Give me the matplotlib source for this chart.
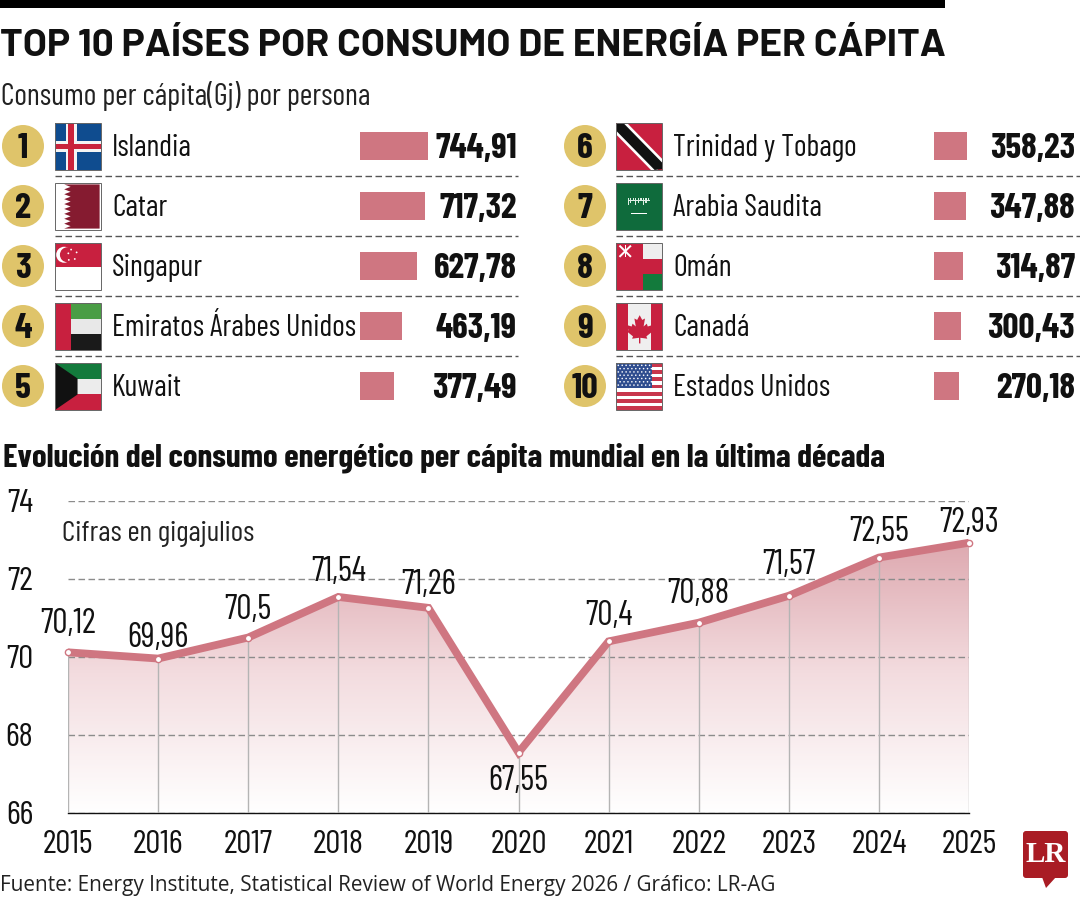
import numpy as np
import matplotlib
matplotlib.use("Agg")
import matplotlib.pyplot as plt
from matplotlib.colors import LinearSegmentedColormap
from matplotlib.patches import Circle, Polygon, Rectangle, FancyBboxPatch
import logging
logging.getLogger("matplotlib.font_manager").setLevel(logging.ERROR)

ranks_a = ["1", "2", "3", "4", "5"]
ranks_b = ["6", "7", "8", "9", "10"]
countries_a = ["Islandia", "Catar", "Singapur", "Emiratos Árabes Unidos", "Kuwait"]
countries_b = ["Trinidad y Tobago", "Arabia Saudita", "Omán", "Canadá", "Estados Unidos"]
values_a = [744.91, 717.32, 627.78, 463.19, 377.49]
values_b = [358.23, 347.88, 314.87, 300.43, 270.18]
labels_a = ["744,91", "717,32", "627,78", "463,19", "377,49"]
labels_b = ["358,23", "347,88", "314,87", "300,43", "270,18"]

years = [2015, 2016, 2017, 2018, 2019, 2020, 2021, 2022, 2023, 2024, 2025]
consumption = [70.12, 69.96, 70.5, 71.54, 71.26, 67.55, 70.4, 70.88, 71.57, 72.55, 72.93]
point_labels = ["70,12", "69,96", "70,5", "71,54", "71,26", "67,55", "70,4", "70,88", "71,57", "72,55", "72,93"]
label_offsets_px = [28, 21, 27, 25, 23, -28, 25, 29, 31, 26, 20]
y_ticks = [66, 68, 70, 72, 74]

TITLE = "TOP 10 PAÍSES POR CONSUMO DE ENERGÍA PER CÁPITA"
SUBTITLE = "Consumo per cápita(Gj) por persona"
HEAD2 = "Evolución del consumo energético per cápita mundial en la última década"
NOTE = "Cifras en gigajulios"
SOURCE = "Fuente: Energy Institute, Statistical Review of World Energy 2026 / Gráfico: LR-AG"

W, H = 1080, 900
PINK = "#cf7681"
GOLD = "#dfc46a"
COND = ["Barlow Condensed", "Liberation Sans", "DejaVu Sans"]
WIDE = ["Barlow", "Liberation Sans", "DejaVu Sans"]
plt.rcParams["font.family"] = COND

fig = plt.figure(figsize=(W / 100, H / 100), dpi=100, facecolor="white")


def px_axes(x0, y0, x1, y1, **kw):
    return fig.add_axes([x0 / W, 1 - y1 / H, (x1 - x0) / W, (y1 - y0) / H], **kw)


ov = px_axes(0, 0, W, H)
ov.set_xlim(0, W)
ov.set_ylim(H, 0)
ov.axis("off")
ov.set_zorder(1)
ov.patch.set_alpha(0)

ov.add_patch(Rectangle((0, 0), 945, 8, fc="black", ec="none"))
ov.text(0, 46, TITLE, fontsize=28, fontweight="bold", family=WIDE, va="center", ha="left", color="#111111")
ov.text(1, 96, SUBTITLE, fontsize=21.8, va="center", ha="left", color="#222222")
ov.text(3, 458, HEAD2, fontsize=23.85, fontweight="bold", va="center", ha="left", color="#111111")
ov.text(0, 885, SOURCE, fontsize=14.95, family=["Open Sans", "DejaVu Sans"], va="center", ha="left", color="#222222")


# ---------- flags (decoration, unit square mapped to a pixel box) ----------
def flag(cx0, cy0):
    w, h = 46, 47

    def P(pts, c, z=3):
        ov.add_patch(Polygon([(cx0 + u * w, cy0 + v * h) for u, v in pts], fc=c, ec="none", zorder=z))

    def R(u0, v0, u1, v1, c, z=3):
        P([(u0, v0), (u1, v0), (u1, v1), (u0, v1)], c, z)

    def D(u, v, r, c, z=3):
        ov.add_patch(Circle((cx0 + u * w, cy0 + v * h), r, fc=c, ec="none", zorder=z))

    def border():
        ov.add_patch(Rectangle((cx0, cy0), w, h, fc="none", ec="#666666", lw=0.7, zorder=6))

    return P, R, D, border


def f_iceland(x, y):
    P, R, D, b = flag(x, y)
    R(0, 0, 1, 1, "#0f4c8f")
    R(.23, 0, .47, 1, "#f4f4f4"); R(0, .38, 1, .62, "#f4f4f4")
    R(.29, 0, .41, 1, "#c9233c", 4); R(0, .44, 1, .56, "#c9233c", 4)
    b()


def f_qatar(x, y):
    P, R, D, b = flag(x, y)
    R(0, 0, 1, 1, "white")
    pts = [(.97, .03), (.97, .97)]
    n = 9
    for i in range(n, 0, -1):
        v1 = .03 + .94 * i / n
        v2 = .03 + .94 * (i - .5) / n
        pts += [(.2, v1), (.34, v2)]
    pts.append((.2, .03))
    P(pts, "#851b30")
    b()


def f_singapore(x, y):
    P, R, D, b = flag(x, y)
    R(0, 0, 1, .5, "#c8203f"); R(0, .5, 1, 1, "white")
    D(.2, .25, 8, "white", 4); D(.27, .25, 7.5, "#c8203f", 5)
    for u, v in [(.35, .14), (.47, .2), (.43, .34), (.3, .36), (.29, .22)]:
        D(u, v, 0.9, "white", 6)
    b()


def f_uae(x, y):
    P, R, D, b = flag(x, y)
    R(.35, 0, 1, .33, "#4a9d45"); R(.35, .33, 1, .67, "#e8e8e8"); R(.35, .67, 1, 1, "#1a1a1a")
    R(0, 0, .35, 1, "#c8203f")
    b()


def f_kuwait(x, y):
    P, R, D, b = flag(x, y)
    R(0, 0, 1, .33, "#137a3c"); R(0, .33, 1, .67, "#ececec"); R(0, .67, 1, 1, "#c8203f")
    P([(0, 0), (.49, .33), (.49, .67), (0, 1)], "#111111", 4)
    b()


def f_tt(x, y):
    P, R, D, b = flag(x, y)
    R(0, 0, 1, 1, "#c8203f")
    P([(.1, 0), (.24, 0), (1, .76), (1, .9), (.9, 1), (.76, 1), (0, .24), (0, .1)], "white", 4)
    P([(.0, .02), (.16, 0), (1, .84), (1, .98), (.84, 1), (0, .16)], "#111111", 5)
    b()


def f_saudi(x, y):
    P, R, D, b = flag(x, y)
    R(0, 0, 1, 1, "#0f6b3c")
    for i in range(9):
        R(.25 + i * .055, .31, .28 + i * .055, .46 - (i % 3) * .04, "#dfeee4", 4)
    R(.25, .37, .74, .39, "#dfeee4", 4)
    R(.32, .63, .68, .655, "white", 4)
    b()


def f_oman(x, y):
    P, R, D, b = flag(x, y)
    R(0, 0, 1, 1, "#c8203f")
    R(.58, 0, 1, .33, "#eeeeee"); R(.58, .67, 1, 1, "#137a3c")
    P([(.06, .07), (.09, .04), (.34, .28), (.31, .31)], "white", 4)
    P([(.34, .07), (.31, .04), (.06, .28), (.09, .31)], "white", 4)
    R(.185, .05, .215, .3, "white", 4)
    b()


def f_canada(x, y):
    P, R, D, b = flag(x, y)
    R(0, 0, 1, 1, "#c8203f"); R(.26, 0, .77, 1, "#efefef", 4)
    leaf = [(.515, .26), (.57, .36), (.63, .33), (.6, .5), (.67, .44), (.69, .5), (.79, .47),
            (.76, .58), (.8, .6), (.66, .71), (.68, .76), (.53, .74), (.53, .86), (.5, .86),
            (.5, .74), (.35, .76), (.37, .71), (.23, .6), (.27, .58), (.24, .47), (.34, .5),
            (.36, .44), (.43, .5), (.4, .33), (.46, .36)]
    P(leaf, "#c8203f", 5)
    b()


def f_usa(x, y):
    P, R, D, b = flag(x, y)
    for i in range(13):
        R(0, i / 13, 1, (i + 1) / 13, "#c8364c" if i % 2 == 0 else "white")
    R(0, 0, .78, .54, "#2f4d8f", 4)
    for r in range(7):
        for c in range(9):
            D(.05 + c * .085 + (.04 if r % 2 else 0), .05 + r * .07, .8, "white", 5)
    b()


flags_a = [f_iceland, f_qatar, f_singapore, f_uae, f_kuwait]
flags_b = [f_tt, f_saudi, f_oman, f_canada, f_usa]

# ---------- table columns ----------
PX_PER_UNIT = 68 / 744.91


def column(ranks, names, values, labels, flags, x_circle, x_flag, x_name, x_bar, x_val, x_sep0, x_sep1):
    bar_w = 100
    ax = px_axes(x_bar, 116, x_bar + bar_w, 416)
    ax.set_xlim(0, bar_w / PX_PER_UNIT)
    ax.set_ylim(len(values) - .5, -.5)
    ax.axis("off")
    ax.barh(range(len(values)), values, height=28 / 60, color=PINK, edgecolor="none")
    for i in range(len(values)):
        yc = 146 + 60 * i
        ov.add_patch(Circle((x_circle, yc), 21, fc=GOLD, ec="none"))
        ov.text(x_circle, yc, ranks[i], fontsize=26, fontweight="bold", ha="center", va="center_baseline", color="#111111")
        flags[i](x_flag, yc - 23)
        ov.text(x_name, yc - 1, names[i], fontsize=21.7, ha="left", va="center_baseline", color="#111111")
        ov.text(x_val, yc, labels[i], fontsize=25.5, fontweight="bold", ha="right", va="center_baseline", color="#111111")
        if i < len(values) - 1:
            ov.plot([x_sep0, x_sep1], [yc + 30, yc + 30], color="#555555", lw=1, ls=(0, (4.7, 2.5)))


column(ranks_a, countries_a, values_a, labels_a, flags_a, 23, 55, 112, 360, 517, 55, 518)
column(ranks_b, countries_b, values_b, labels_b, flags_b, 585, 616, 673, 934, 1075, 616, 1080)

# ---------- line chart ----------
ax = px_axes(68, 501, 969, 813)
ax.set_xlim(years[0], years[-1])
ax.set_ylim(y_ticks[0], y_ticks[-1])
ax.patch.set_alpha(0)
ax.set_zorder(2)
for s in ("top", "left", "right"):
    ax.spines[s].set_visible(False)
ax.spines["bottom"].set_color("#111111")
ax.spines["bottom"].set_linewidth(1)

cmap = LinearSegmentedColormap.from_list("fade", ["#ffffff", "#f3dcdf", "#dca5ac"])
poly = ax.fill_between(years, consumption, y_ticks[0], facecolor="none", edgecolor="none")
im = ax.imshow(np.linspace(1, 0, 256).reshape(-1, 1), extent=(years[0], years[-1], y_ticks[0], 73.2),
               aspect="auto", cmap=cmap, zorder=1)
im.set_clip_path(poly.get_paths()[0], transform=ax.transData)
ax.set_xlim(years[0], years[-1])
ax.set_ylim(y_ticks[0], y_ticks[-1])

ax.set_yticks(y_ticks)
ax.set_xticks(years)
ax.tick_params(axis="both", length=0, labelsize=24, labelcolor="#111111")
ax.tick_params(axis="y", pad=25)
ax.tick_params(axis="x", pad=12)
ax.yaxis.grid(True, color="#8c8c8c", lw=1, ls=(0, (4.7, 2.5)), zorder=2)
ax.set_axisbelow(False)
ax.vlines(years, y_ticks[0], consumption, color="#b4b4b4", lw=1, zorder=3)
ax.plot(years, consumption, color=PINK, lw=5.6, solid_joinstyle="miter", solid_capstyle="butt", zorder=4, clip_on=False)
ax.plot(years, consumption, ls="none", marker="o", ms=4.5, mfc="white", mec=PINK, mew=1, zorder=5, clip_on=False)
for x, v, t, off in zip(years, consumption, point_labels, label_offsets_px):
    ax.annotate(t, (x, v), xytext=(0, off * 0.72), textcoords="offset points", ha="center", va="center",
                fontsize=24.5, color="#111111", zorder=6, annotation_clip=False)
ov.text(62, 534, NOTE, fontsize=21.3, ha="left", va="center", color="#222222")

# ---------- logo ----------
ov.add_patch(FancyBboxPatch((1025, 833), 41, 43, boxstyle="round,pad=2,rounding_size=3", fc="#a91c24", ec="none"))
ov.add_patch(Polygon([(1042, 877), (1056, 877), (1046, 888)], fc="#a91c24", ec="none"))
ov.text(1045.5, 855, "LR", fontsize=21, fontweight="bold", family=["Liberation Serif", "DejaVu Serif"], color="white", ha="center", va="center")

fig.savefig("out.png", dpi=100, facecolor="white")
